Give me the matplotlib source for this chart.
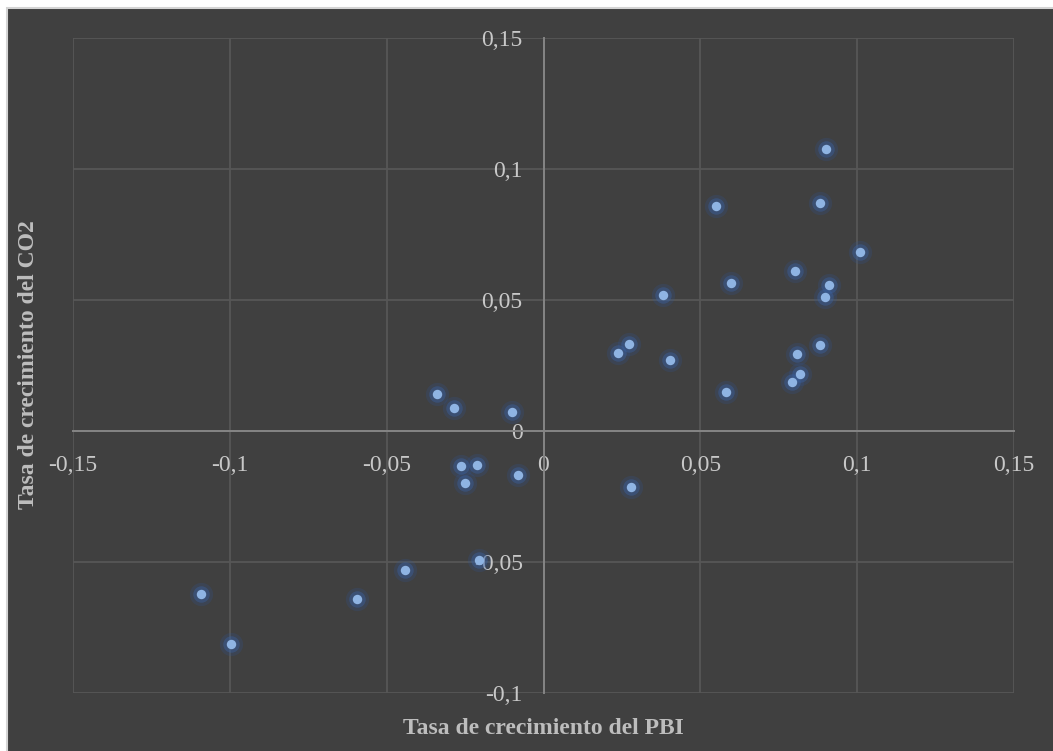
import matplotlib
matplotlib.use("Agg")
import matplotlib.pyplot as plt
from matplotlib.patches import Rectangle
from matplotlib.ticker import FuncFormatter, FixedLocator

# tasas de crecimiento (PBI, CO2)
pbi = [0.0902, 0.0551, 0.0882, 0.1010, 0.0803, 0.0599, 0.0911, 0.0898,
       0.0382, 0.0272, 0.0238, 0.0404, 0.0882, 0.0809, 0.0819, 0.0793,
       0.0583, -0.0340, -0.0286, -0.0102, -0.0262, -0.0211, -0.0251,
       -0.0080, 0.0280, -0.0205, -0.0442, -0.1091, -0.0594, -0.0995]
co2 = [0.1075, 0.0858, 0.0869, 0.0682, 0.0611, 0.0564, 0.0556, 0.0510,
       0.0519, 0.0331, 0.0298, 0.0272, 0.0327, 0.0293, 0.0216, 0.0187,
       0.0149, 0.0140, 0.0087, 0.0074, -0.0134, -0.0130, -0.0200,
       -0.0168, -0.0215, -0.0492, -0.0532, -0.0623, -0.0640, -0.0813]

x_ticks = [-0.15, -0.1, -0.05, 0, 0.05, 0.1, 0.15]
y_ticks = [-0.1, -0.05, 0, 0.05, 0.1, 0.15]
x_title = 'Tasa de crecimiento del PBI'
y_title = 'Tasa de crecimiento del CO2'

BG = '#404040'
GRID = '#575757'
AXIS = '#858585'
TEXT = '#c8c8c8'
FONT = 'Liberation Serif'

W, H = 1053, 751
fig = plt.figure(figsize=(W / 100, H / 100), dpi=100, facecolor='white')
fig.patches.append(Rectangle((7 / W, -0.01), 1.01, (H - 8) / H + 0.01,
                             transform=fig.transFigure, facecolor=BG,
                             edgecolor='#d4d4d4', linewidth=1.5, zorder=-10))

ax = fig.add_axes([73 / W, (H - 693) / H, 941 / W, 655 / H])
ax.set_facecolor(BG)
ax.set_xlim(-0.15, 0.15)
ax.set_ylim(-0.1, 0.15)

for side in ['top', 'right']:
    ax.spines[side].set_visible(False)
for side in ['left', 'bottom']:
    ax.spines[side].set_position(('data', 0))
    ax.spines[side].set_color(AXIS)
    ax.spines[side].set_linewidth(1.4)
    ax.spines[side].set_zorder(1.5)

ax.xaxis.set_major_locator(FixedLocator(x_ticks))
ax.yaxis.set_major_locator(FixedLocator(y_ticks))
fmt = FuncFormatter(lambda v, _: ('%g' % round(v, 3)).replace('.', ','))
ax.xaxis.set_major_formatter(fmt)
ax.yaxis.set_major_formatter(fmt)
ax.tick_params(axis='x', length=0, pad=17, labelsize=17, labelcolor=TEXT)
ax.tick_params(axis='y', length=0, pad=15, labelsize=17, labelcolor=TEXT)
for lab in ax.get_xticklabels() + ax.get_yticklabels():
    lab.set_fontfamily(FONT)

ax.grid(True, color=GRID, linewidth=1.3, zorder=0)
ax.set_axisbelow(True)

# puntos con halo
ax.scatter(pbi, co2, s=280, color='#2f5597', alpha=0.22, linewidths=0, zorder=3)
ax.scatter(pbi, co2, s=140, color='#3a64a8', alpha=0.4, linewidths=0, zorder=3)
ax.scatter(pbi, co2, s=46, color='#8fb4e3', linewidths=0, zorder=4)

fig.text(543.5 / W, (H - 728) / H, x_title, ha='center', va='center',
         fontsize=17, fontweight='bold', color='#bdbdbd', family=FONT)
fig.text(29 / W, (H - 365) / H, y_title, ha='center', va='center',
         rotation=90, fontsize=17, fontweight='bold', color='#bdbdbd',
         family=FONT)

fig.savefig('out.png', dpi=100)
